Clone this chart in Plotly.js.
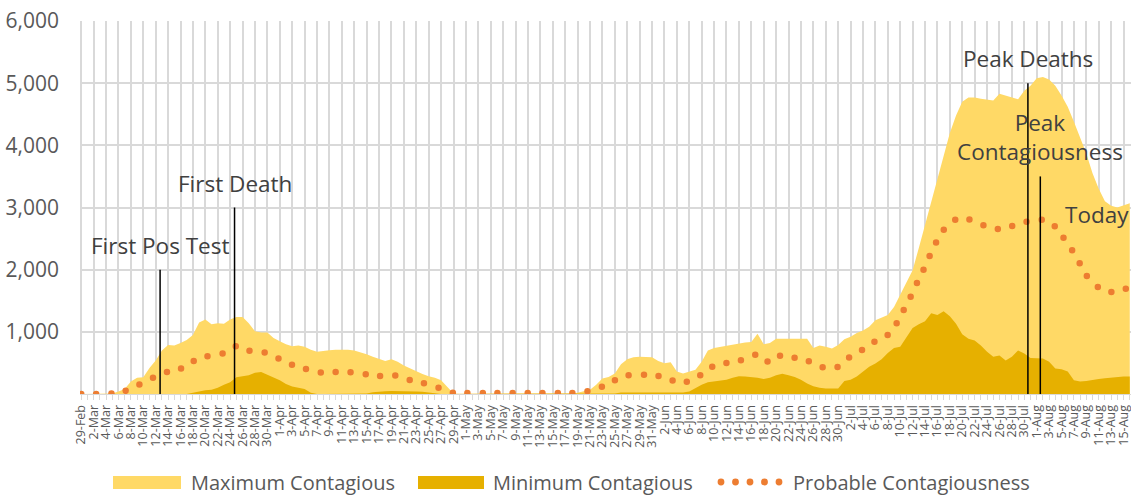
<!DOCTYPE html>
<html>
<head>
<meta charset="utf-8">
<script src="https://cdn.plot.ly/plotly-3.0.1.min.js"></script>
<style>
  html, body { margin: 0; padding: 0; background: #fff; }
  #chart { width: 1131px; height: 499px; }
  .scatterlayer .js-line { stroke-linecap: round !important; }
</style>
</head>
<body>
<div id="chart"></div>
<script>
// ---- DATA ----
const startDate = '2020-02-29';
const dayCount = 170;

const maxContagious = [
  0,0,0,0,0,10,40,80,200,260,
  270,420,540,700,790,780,820,870,950,1150,
  1200,1120,1140,1130,1200,1240,1240,1140,1010,990,
  990,900,850,800,770,780,760,710,680,695,
  705,710,715,710,700,675,640,600,570,530,
  560,520,460,410,370,320,285,260,220,120,
  10,5,5,5,5,5,5,5,5,5,
  5,5,5,5,5,5,5,5,5,10,
  20,40,70,150,250,275,330,480,560,590,
  600,595,590,530,495,510,360,330,360,390,
  520,700,740,760,775,790,815,830,835,970,
  800,820,890,890,890,890,890,890,740,780,
  760,730,790,880,920,980,1020,1080,1185,1230,
  1270,1400,1600,1780,1990,2350,2720,3080,3450,3850,
  4200,4480,4700,4770,4770,4750,4740,4720,4830,4800,
  4760,4740,4880,4960,5080,5100,5060,4960,4800,4620,
  4380,4120,3870,3550,3300,3100,3030,3000,3030,3070
];

const minContagious = [
  0,0,0,0,0,0,0,0,0,0,
  0,0,0,0,0,0,0,0,20,45,
  60,70,100,150,190,270,290,300,340,355,
  310,270,220,160,120,100,80,20,0,0,
  0,0,0,0,0,0,10,30,40,45,
  48,48,45,45,40,35,25,5,0,0,
  0,0,0,0,0,0,0,0,0,0,
  0,0,0,0,0,0,0,0,0,0,
  0,0,0,0,0,0,10,25,25,25,
  25,25,25,25,25,25,25,25,40,100,
  150,190,205,215,230,260,285,280,275,260,
  240,260,300,325,300,275,230,170,125,100,
  90,85,90,210,230,280,360,440,490,560,
  660,740,760,900,1060,1120,1170,1300,1270,1330,
  1250,1130,960,890,860,780,680,600,620,540,
  600,700,650,580,570,570,520,410,400,360,
  220,200,210,220,240,255,265,275,280,280
];

const probableContagiousness = [
  0,0,0,0,0,10,25,45,90,140,
  175,230,285,330,360,390,410,440,520,595,
  605,615,630,660,720,770,740,700,685,675,
  660,610,560,510,470,440,410,375,345,345,
  350,354,354,354,345,335,315,295,290,300,
  310,285,255,225,200,180,155,120,85,45,
  20,15,15,15,15,15,15,15,15,15,
  15,15,15,15,15,15,15,15,15,15,
  20,25,60,90,120,150,220,280,300,310,
  311,311,311,290,270,240,170,180,210,240,
  320,375,460,490,500,510,535,565,600,643,
  570,505,590,627,610,584,560,535,500,440,
  420,410,440,540,600,643,720,790,850,890,
  950,1060,1250,1430,1630,1850,2050,2280,2480,2640,
  2750,2810,2826,2810,2780,2740,2680,2650,2660,2680,
  2700,2730,2760,2790,2800,2800,2780,2690,2550,2440,
  2260,2090,1910,1800,1710,1670,1640,1640,1680,1720
];

const seriesNames = ['Maximum Contagious', 'Minimum Contagious', 'Probable Contagiousness'];
const yTickVals = [1000, 2000, 3000, 4000, 5000, 6000];

const eventLabels = ['First Pos Test', 'First Death', 'Peak Deaths', 'Peak<br>Contagiousness', 'Today'];
const eventDates = ['2020-03-12 17:00', '2020-03-24 17:00', '2020-07-30 14:00', '2020-08-01 14:00', '2020-08-10 16:00'];
const eventLineTop = [2000, 3000, 5000, 3500, null];
const eventLabelY = [2390, 3390, 5390, 4130, 2890];

// build daily date categories
function buildDates(start, n) {
  const out = [];
  const d0 = new Date(start + 'T00:00:00Z');
  for (let i = 0; i < n; i++) {
    const d = new Date(d0.getTime() + i * 86400000);
    out.push(d.toISOString().slice(0, 10));
  }
  return out;
}
const dates = buildDates(startDate, dayCount);

// ---- STYLE ----
const colMax = '#FFD966';
const colMin = '#E6B000';
const colProb = '#ED7D31';
const gridCol = '#D9D9D9';
const textCol = '#595959';
const FONT = 'Open Sans, Noto Sans, sans-serif';

const traces = [
  { x: dates, y: maxContagious, name: seriesNames[0], type: 'scatter', mode: 'lines',
    fill: 'tozeroy', fillcolor: colMax, line: { width: 0, color: colMax } },
  { x: dates, y: minContagious, name: seriesNames[1], type: 'scatter', mode: 'lines',
    fill: 'tozeroy', fillcolor: colMin, line: { width: 0, color: colMin } },
  { x: dates, y: probableContagiousness, name: seriesNames[2], type: 'scatter', mode: 'lines',
    line: { width: 6.5, color: colProb, dash: '0px,15px', shape: 'spline', smoothing: 0.6 } }
];

// layout geometry helpers (pixel -> paper)
const W = 1131, H = 499, mL = 80, mR = 0, mT = 21, mB = 105;
const pw = W - mL - mR, ph = H - mT - mB;
const px = v => (v - mL) / pw;
const py = v => (H - mB - v) / ph;

const shapes = [];
const annotations = [];

eventLabels.forEach((lab, i) => {
  if (eventLineTop[i] !== null) {
    shapes.push({ type: 'line', xref: 'x', yref: 'y', x0: eventDates[i], x1: eventDates[i],
      y0: 0, y1: eventLineTop[i], line: { color: '#000000', width: 1.5 }, layer: 'above' });
  }
  annotations.push({ x: eventDates[i], y: eventLabelY[i], xref: 'x', yref: 'y', text: lab,
    showarrow: false, xanchor: 'center', yanchor: 'middle',
    font: { family: FONT, size: 22.5, color: '#404040' } });
});

// custom legend
const legY = 482;
shapes.push({ type: 'rect', xref: 'paper', yref: 'paper', x0: px(113), x1: px(181), y0: py(489), y1: py(476),
  fillcolor: colMax, line: { width: 0 } });
shapes.push({ type: 'rect', xref: 'paper', yref: 'paper', x0: px(418), x1: px(484), y0: py(489), y1: py(476),
  fillcolor: colMin, line: { width: 0 } });
[721, 735.5, 750, 764.5, 779].forEach(cx => {
  shapes.push({ type: 'circle', xref: 'paper', yref: 'paper', x0: px(cx - 3.4), x1: px(cx + 3.4),
    y0: py(legY + 3.4), y1: py(legY - 3.4), fillcolor: colProb, line: { width: 0 } });
});
[[189, seriesNames[0]], [491, seriesNames[1]], [791, seriesNames[2]]].forEach(([x, t]) => {
  annotations.push({ xref: 'paper', yref: 'paper', x: px(x), y: py(legY), text: t, showarrow: false,
    xanchor: 'left', yanchor: 'middle', font: { family: FONT, size: 20, color: textCol } });
});

const layout = {
  width: W, height: H,
  margin: { l: mL, r: mR, t: mT, b: mB, pad: 0 },
  paper_bgcolor: '#ffffff', plot_bgcolor: '#ffffff',
  font: { family: FONT, color: textCol },
  showlegend: false,
  xaxis: {
    type: 'date',
    range: ['2020-02-28 19:12', '2020-08-16 04:48'],
    tick0: startDate, dtick: 172800000, tickformat: '%-d-%b',
    tickangle: -90, tickfont: { size: 12.5, color: textCol, family: FONT },
    ticklabeloverflow: 'allow',
    showgrid: true, gridcolor: gridCol, gridwidth: 2,
    ticks: 'outside', ticklen: 5, tickcolor: gridCol, tickwidth: 1,
    minor: { dtick: 86400000, tick0: startDate, ticks: 'outside', ticklen: 5, tickcolor: gridCol, showgrid: false },
    showline: true, linecolor: gridCol, linewidth: 1, zeroline: false, fixedrange: true
  },
  yaxis: {
    range: [0, 6000], tickvals: yTickVals, tickformat: ',',
    tickfont: { size: 21, color: textCol, family: FONT },
    showgrid: true, gridcolor: gridCol, gridwidth: 2, zeroline: false,
    ticks: '', ticklabelstandoff: 20, fixedrange: true
  },
  shapes: shapes,
  annotations: annotations
};

Plotly.newPlot('chart', traces, layout, { staticPlot: true, displayModeBar: false });
</script>
</body>
</html>
